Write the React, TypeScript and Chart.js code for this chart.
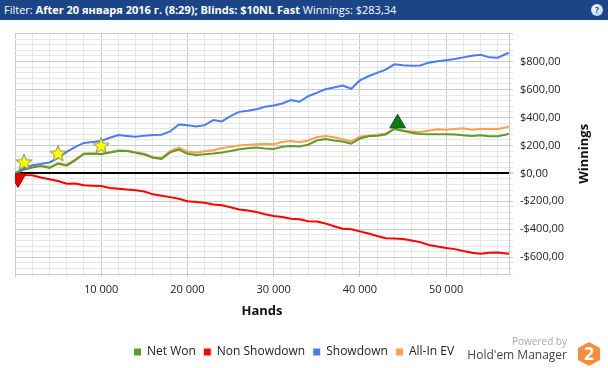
import React, { useEffect, useRef } from 'react';
import { Chart, registerables } from 'chart.js';
Chart.register(...registerables);

// ---- data (hands on x, dollars on y) ----
const HANDS = [
  0, 1000, 2000, 3000, 4000, 5000, 6000, 7000, 8000, 9000,
  10000, 11000, 12000, 13000, 14000, 15000, 16000, 17000, 18000, 19000,
  20000, 21000, 22000, 23000, 24000, 25000, 26000, 27000, 28000, 29000,
  30000, 31000, 32000, 33000, 34000, 35000, 36000, 37000, 38000, 39000,
  40000, 41000, 42000, 43000, 44000, 45000, 46000, 47000, 48000, 49000,
  50000, 51000, 52000, 53000, 54000, 55000, 56000, 57000, 57300,
];
const NET_WON = [
  0, 25, 42, 52, 38, 70, 55, 95, 140, 142,
  138, 150, 160, 160, 148, 135, 112, 104, 150, 170,
  140, 132, 137, 142, 149, 160, 173, 180, 185, 178,
  175, 190, 196, 192, 205, 235, 245, 235, 228, 212,
  250, 265, 270, 278, 318, 305, 290, 282, 280, 280,
  280, 278, 272, 268, 272, 265, 266, 278, 283,
];
const NON_SHOWDOWN = [
  0, -12, -14, -30, -42, -55, -74, -72, -85, -88,
  -90, -104, -110, -116, -120, -130, -150, -160, -170, -182,
  -200, -205, -210, -222, -228, -242, -258, -266, -276, -292,
  -305, -312, -325, -328, -342, -345, -358, -378, -396, -400,
  -415, -430, -448, -464, -466, -470, -480, -492, -512, -524,
  -534, -542, -556, -568, -575, -568, -566, -574, -576,
];
const SHOWDOWN = [
  0, 35, 58, 68, 78, 110, 154, 190, 218, 225,
  232, 255, 275, 268, 262, 270, 274, 276, 300, 350,
  344, 336, 345, 381, 372, 410, 440, 448, 458, 476,
  486, 500, 525, 512, 552, 576, 602, 614, 628, 605,
  665, 695, 719, 742, 780, 774, 770, 772, 792, 802,
  810, 818, 830, 842, 848, 830, 828, 856, 862,
];
const ALL_IN_EV = [
  0, 28, 48, 58, 45, 72, 62, 100, 138, 140,
  135, 152, 165, 162, 152, 140, 118, 110, 160, 185,
  155, 150, 158, 165, 182, 190, 200, 205, 208, 212,
  208, 225, 232, 222, 235, 258, 268, 258, 245, 228,
  262, 270, 276, 285, 320, 305, 300, 296, 305, 316,
  312, 318, 322, 312, 318, 320, 318, 330, 337,
];
// markers
const STAR_HANDS = [1040, 4990, 9980];
const STAR_VALUES = [83, 144, 201];
const LOSS_HANDS = [350];
const LOSS_VALUES = [-36];
const PEAK_HANDS = [44380];
const PEAK_VALUES = [358];

const LEGEND_LABELS = ['Net Won', 'Non Showdown', 'Showdown', 'All-In EV'];
const X_MAJOR_TICKS = [10000, 20000, 30000, 40000, 50000];
const Y_LABEL_TICKS = [800, 600, 400, 200, 0, -200, -400, -600];
const X_MIN = 0, X_MAX = 57300, X_STEP = 2000;
const Y_MIN = -720, Y_MAX = 1000, Y_STEP = 40;

const FONT = "'Open Sans', 'Noto Sans', sans-serif";

function fmtHands(v: number) {
  return `${Math.round(v / 1000)} 000`;
}
function fmtMoney(v: number) {
  return (v < 0 ? '-' : '') + '$' + Math.abs(v) + ',00';
}

function makeStar(): HTMLCanvasElement {
  const c = document.createElement('canvas');
  c.width = 20;
  c.height = 20;
  const g = c.getContext('2d')!;
  g.beginPath();
  for (let i = 0; i < 10; i++) {
    const r = i % 2 === 0 ? 8.5 : 3.7;
    const a = -Math.PI / 2 + (i * Math.PI) / 5;
    const px = 10 + r * Math.cos(a);
    const py = 10.8 + r * Math.sin(a);
    if (i === 0) g.moveTo(px, py);
    else g.lineTo(px, py);
  }
  g.closePath();
  g.fillStyle = '#ffff00';
  g.fill();
  g.strokeStyle = '#8a8a60';
  g.lineWidth = 1;
  g.stroke();
  return c;
}

const yTitlePlugin = {
  id: 'yTitle',
  afterDraw(chart: any) {
    const { ctx, chartArea } = chart;
    ctx.save();
    ctx.translate(584, (chartArea.top + chartArea.bottom) / 2);
    ctx.rotate(-Math.PI / 2);
    ctx.font = `bold 13px ${FONT}`;
    ctx.fillStyle = '#111';
    ctx.textAlign = 'center';
    ctx.textBaseline = 'middle';
    ctx.fillText('Winnings', 0, 0);
    ctx.restore();
  },
};

export default function App() {
  const ref = useRef<HTMLCanvasElement | null>(null);

  useEffect(() => {
    document.body.style.margin = '0';
    const pts = (ys: number[]) => HANDS.map((h, i) => ({ x: h, y: ys[i] }));
    const mk = (xs: number[], ys: number[]) => xs.map((h, i) => ({ x: h, y: ys[i] }));
    const colors = ['#5e9a2c', '#ff0000', '#4a7af7', '#ffa04c'];
    const series = [NET_WON, NON_SHOWDOWN, SHOWDOWN, ALL_IN_EV];
    const lineSets = series.map((s, i) => ({
      type: 'line' as const,
      label: LEGEND_LABELS[i],
      data: pts(s),
      borderColor: colors[i],
      backgroundColor: colors[i],
      borderWidth: 2,
      pointRadius: 0,
      tension: 0,
      order: 2 + i,
    }));
    const star = makeStar();
    const chart = new Chart(ref.current!, {
      type: 'line',
      data: {
        datasets: [
          ...lineSets,
          {
            type: 'scatter',
            label: '_stars',
            data: mk(STAR_HANDS, STAR_VALUES),
            pointStyle: star as any,
            pointRadius: 9,
            order: 0,
          } as any,
          {
            type: 'scatter',
            label: '_loss',
            data: mk(LOSS_HANDS, LOSS_VALUES),
            pointStyle: 'triangle',
            rotation: 180,
            pointRadius: 9,
            backgroundColor: '#e80000',
            borderColor: '#b00000',
            borderWidth: 1,
            order: 1,
          } as any,
          {
            type: 'scatter',
            label: '_peak',
            data: mk(PEAK_HANDS, PEAK_VALUES),
            pointStyle: 'triangle',
            pointRadius: 9,
            backgroundColor: '#0b7a12',
            borderColor: '#05560a',
            borderWidth: 1,
            order: 1,
          } as any,
        ],
      },
      options: {
        animation: false,
        responsive: true,
        maintainAspectRatio: false,
        layout: { padding: { top: 13, left: 15, right: 35, bottom: 0 } },
        plugins: {
          tooltip: { enabled: false },
          legend: {
            position: 'bottom',
            labels: {
              boxWidth: 7,
              boxHeight: 7,
              padding: 8,
              color: '#222',
              font: { family: FONT, size: 12 },
              generateLabels: (c: any) =>
                (Chart.defaults.plugins.legend.labels as any)
                  .generateLabels(c)
                  .filter((l: any) => !String(l.text).startsWith('_'))
                  .map((l: any) => ({ ...l, lineWidth: 0 })),
            },
          },
        },
        scales: {
          x: {
            type: 'linear',
            min: X_MIN,
            max: X_MAX,
            afterBuildTicks: (s: any) => {
              const t: any[] = [];
              for (let v = X_MIN; v < X_MAX; v += X_STEP) t.push({ value: v });
              t.push({ value: X_MAX });
              s.ticks = t;
            },
            afterFit: (s: any) => {
              s.height = 64;
            },
            ticks: {
              autoSkip: false,
              maxRotation: 0,
              padding: 6,
              color: '#222',
              font: { family: FONT, size: 11 },
              callback: (v: any) => (X_MAJOR_TICKS.includes(v) ? fmtHands(v) : ''),
            },
            grid: {
              color: (c: any) => (c.tick && c.tick.value % 10000 === 0 ? '#cacaca' : '#e6e6e6'),
              tickLength: 3,
            },
            border: { color: '#c8c8c8' },
            title: {
              display: true,
              text: 'Hands',
              color: '#111',
              font: { family: FONT, size: 13, weight: 'bold' },
              padding: { top: 0, bottom: 19 },
            },
          },
          y: {
            type: 'linear',
            position: 'right',
            min: Y_MIN,
            max: Y_MAX,
            afterBuildTicks: (s: any) => {
              const t: any[] = [];
              for (let v = Y_MIN; v <= Y_MAX; v += Y_STEP) t.push({ value: v });
              s.ticks = t;
            },
            afterFit: (s: any) => {
              s.width = 64;
            },
            ticks: {
              autoSkip: false,
              padding: 7,
              color: '#222',
              font: { family: FONT, size: 11 },
              callback: (v: any) => (Y_LABEL_TICKS.includes(v) ? fmtMoney(v) : ''),
            },
            grid: {
              color: (c: any) =>
                c.tick && c.tick.value === 0
                  ? '#000000'
                  : c.tick && c.tick.value % 200 === 0
                  ? '#cacaca'
                  : '#e6e6e6',
              lineWidth: (c: any) => (c.tick && c.tick.value === 0 ? 2 : 1),
              tickColor: (c: any) => (c.tick && c.tick.value % 200 === 0 ? '#cacaca' : '#e6e6e6'),
              tickLength: 4,
            },
            border: { color: '#c8c8c8' },
          },
        },
      },
      plugins: [yTitlePlugin],
    });
    return () => chart.destroy();
  }, []);

  return (
    <div
      style={{
        position: 'absolute',
        left: 0,
        top: 0,
        width: 608,
        height: 368,
        overflow: 'hidden',
        background: '#fff',
        fontFamily: FONT,
      }}
    >
      <div
        style={{
          position: 'absolute',
          left: 0,
          top: 0,
          width: 608,
          height: 20,
          background: '#1b4586',
          color: '#fff',
          fontSize: 11,
          lineHeight: '20px',
          whiteSpace: 'nowrap',
        }}
      >
        <span style={{ marginLeft: 4 }}>Filter: </span>
        <b>After 20 января 2016 г. (8:29); Blinds: $10NL Fast</b>
        <span> Winnings: $283,34</span>
        <div
          style={{
            position: 'absolute',
            left: 591,
            top: 4,
            width: 12,
            height: 12,
            borderRadius: 6,
            background: 'radial-gradient(circle at 40% 35%, #ffffff, #9cc4ee)',
            color: '#1b4586',
            fontSize: 9,
            fontWeight: 'bold',
            lineHeight: '12px',
            textAlign: 'center',
          }}
        >
          ?
        </div>
      </div>
      <div style={{ position: 'absolute', left: 0, top: 20, width: 608, height: 348 }}>
        <canvas ref={ref} />
      </div>
      <div
        style={{
          position: 'absolute',
          right: 41,
          top: 334,
          fontSize: 10,
          color: '#a8a8a8',
          whiteSpace: 'nowrap',
        }}
      >
        Powered by
      </div>
      <div
        style={{
          position: 'absolute',
          right: 41,
          top: 346,
          fontSize: 12,
          color: '#444',
          whiteSpace: 'nowrap',
        }}
      >
        Hold'em Manager
      </div>
      <div
        style={{
          position: 'absolute',
          left: 578,
          top: 342,
          width: 22,
          height: 24,
          background: '#f58d3c',
          clipPath: 'polygon(50% 0, 100% 25%, 100% 75%, 50% 100%, 0 75%, 0 25%)',
          color: '#fff',
          fontWeight: 'bold',
          fontSize: 17,
          lineHeight: '24px',
          textAlign: 'center',
        }}
      >
        2
      </div>
    </div>
  );
}
